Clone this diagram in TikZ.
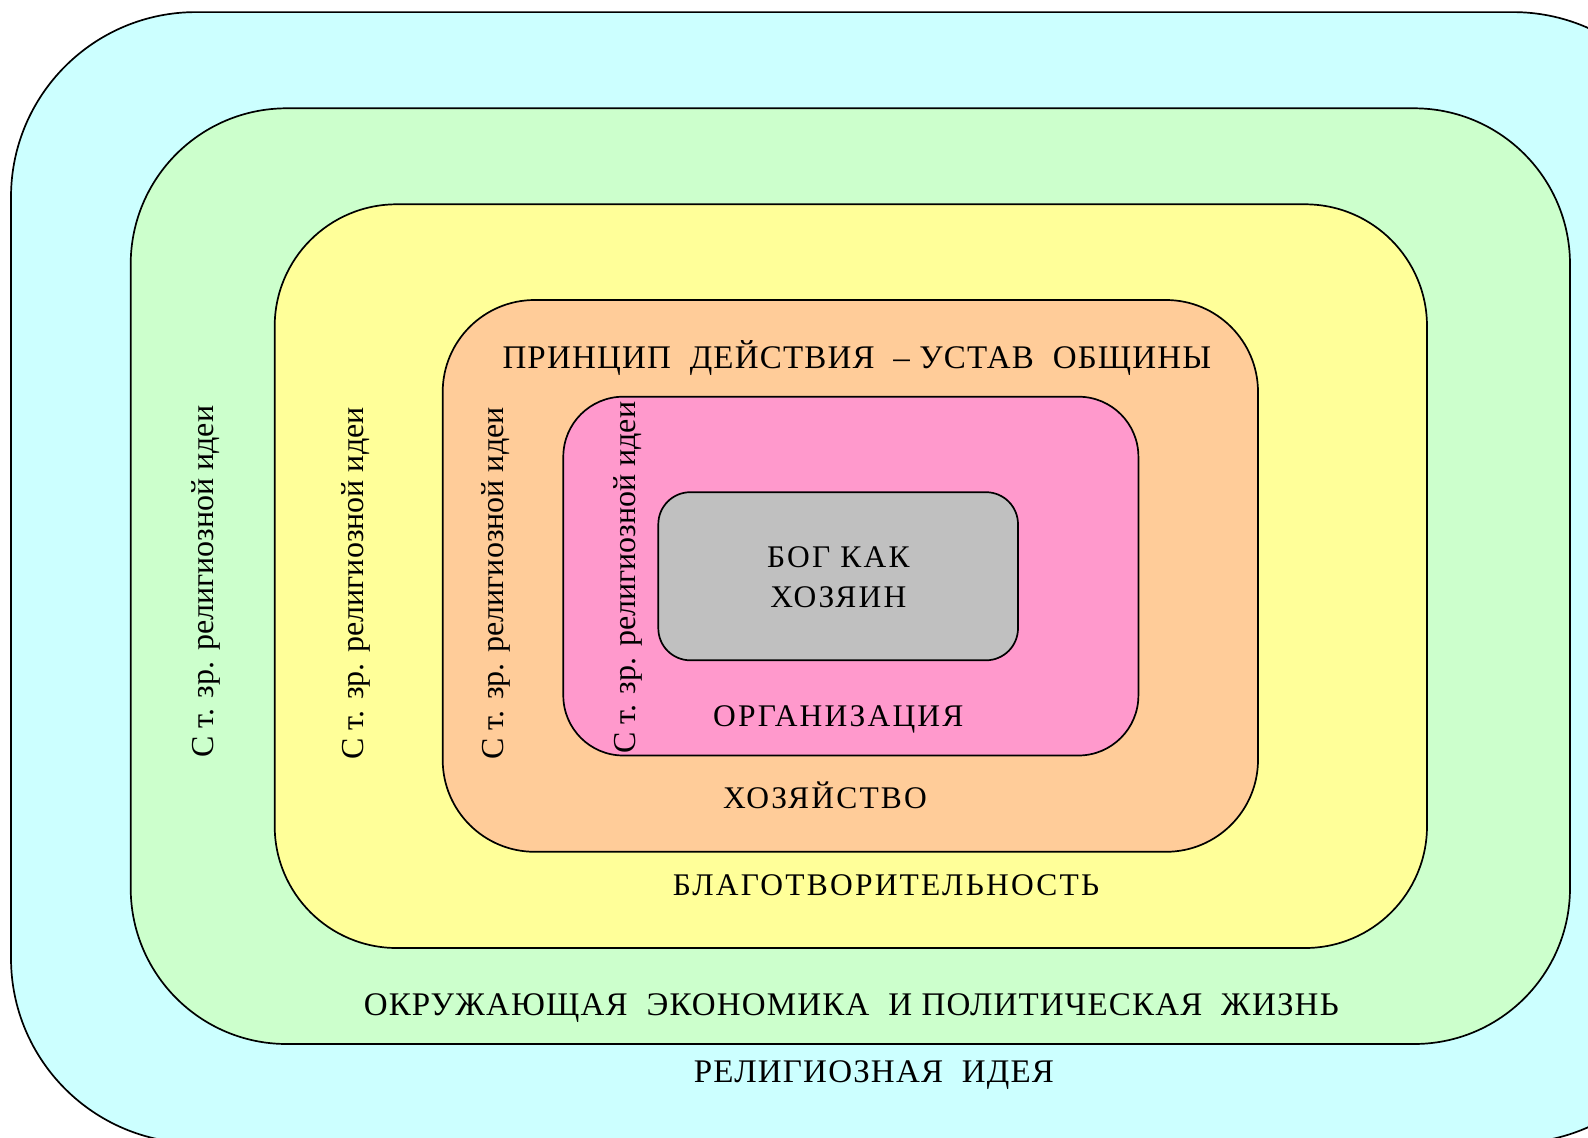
\documentclass[tikz,border=0pt]{standalone}
\usepackage{fontspec}
\setmainfont{Liberation Serif}
\newfontfamily\spacedfont[LetterSpace=7]{Liberation Serif}
\newfontfamily\trackfont[LetterSpace=3.6]{Liberation Serif}
\definecolor{cCyan}{HTML}{CCFFFF}
\definecolor{cGreen}{HTML}{CCFFCC}
\definecolor{cYellow}{HTML}{FFFF99}
\definecolor{cOrange}{HTML}{FFCC99}
\definecolor{cPink}{HTML}{FF99CC}
\definecolor{cGray}{HTML}{C0C0C0}
\tikzset{
  region/.style={draw=black, line width=1.7pt, inner sep=0pt, outer sep=0pt},
  lbl/.style={inner sep=0pt, anchor=base, font=\trackfont\fontsize{33}{38}\selectfont},
  slbl/.style={inner sep=0pt, anchor=base, font=\spacedfont\fontsize{31.5}{38}\selectfont},
  vlbl/.style={inner sep=0pt, rotate=90, anchor=base west, font=\fontsize{32}{38}\selectfont}
}
\begin{document}
\begin{tikzpicture}[x=1pt,y=-1pt]
\clip (0,0) rectangle (1588,1138);
\fill[white] (0,0) rectangle (1588,1138);
% regions
\node[region, fill=cCyan, minimum width=1687pt, minimum height=1131pt, rounded corners=185pt] (outer) at (854.5,577.6) {};
\node[region, fill=cGreen, minimum width=1439.3pt, minimum height=935.7pt, rounded corners=156pt] (green) at (850.35,576.15) {};
\node[region, fill=cYellow, minimum width=1152.3pt, minimum height=743.7pt, rounded corners=122pt] (yellow) at (850.85,576.15) {};
\node[region, fill=cOrange, minimum width=815.3pt, minimum height=551.8pt, rounded corners=92pt] (orange) at (850.35,575.9) {};
\node[region, fill=cPink, minimum width=575.1pt, minimum height=358.8pt, rounded corners=60pt] (pink) at (850.85,576.1) {};
\node[region, fill=cGray, minimum width=359.7pt, minimum height=168.1pt, rounded corners=32pt] (gray) at (838.15,576.25) {};
% horizontal labels
\node[lbl] (principle) at (856.9,368.3) {ПРИНЦИП~~ДЕЙСТВИЯ~~– УСТАВ~~ОБЩИНЫ};
\node[slbl] (god1) at (838.3,567.3) {БОГ КАК};
\node[slbl] (god2) at (838.3,607.3) {ХОЗЯИН};
\node[slbl] (org) at (838.3,726.7) {ОРГАНИЗАЦИЯ};
\node[slbl] (econ) at (825,808.3) {ХОЗЯЙСТВО};
\node[slbl] (charity) at (886,895) {БЛАГОТВОРИТЕЛЬНОСТЬ};
\node[lbl] (env) at (851.3,1015) {ОКРУЖАЮЩАЯ~~ЭКОНОМИКА~~И ПОЛИТИЧЕСКАЯ~~ЖИЗНЬ};
\node[lbl] (relig) at (874,1082.6) {РЕЛИГИОЗНАЯ~~ИДЕЯ};
% vertical labels
\node[vlbl] (v1) at (213.3,758) {С т. зр. религиозной идеи};
\node[vlbl] (v2) at (363,759.6) {С т. зр. религиозной идеи};
\node[vlbl] (v3) at (503,759.6) {С т. зр. религиозной идеи};
\node[vlbl] (v4) at (635,754) {С т. зр. религиозной идеи};
\end{tikzpicture}
\end{document}
